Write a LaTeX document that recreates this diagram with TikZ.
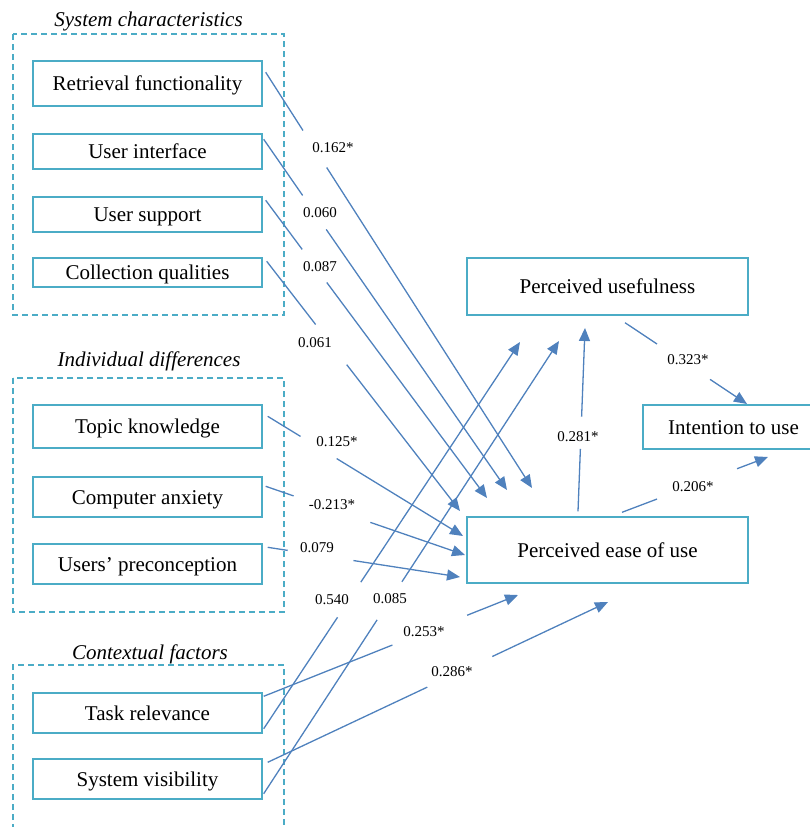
\documentclass[tikz,border=0pt]{standalone}
\usepackage{fontspec}
\setmainfont{Liberation Serif}
\usetikzlibrary{arrows.meta,calc}
\definecolor{boxteal}{HTML}{4BACC6}
\definecolor{arrblue}{HTML}{4F81BD}
\begin{document}
\begin{tikzpicture}[x=1pt,y=-1pt,
  box/.style={draw=boxteal, line width=1.4pt, fill=white, inner sep=0pt, minimum width=229pt,
    font=\fontsize{21}{24}\selectfont, text=black, text height=16pt, text depth=2pt},
  bigbox/.style={box, minimum width=281pt},
  grouptitle/.style={font=\fontsize{21}{24}\selectfont\itshape, inner sep=0pt, text height=16pt, text depth=2pt},
  frame/.style={draw=boxteal, line width=1.1pt, dash pattern=on 6pt off 4pt},
  conn/.style={draw=arrblue, line width=1.3pt},
  arr/.style={conn, -{Triangle[length=13pt,width=11pt]}},
  coef/.style={font=\fontsize{15}{17}\selectfont, inner sep=0pt, text=black}]
\useasboundingbox (0,0) rectangle (810,827);
\clip (0,0) rectangle (810,827);

% group frames
\draw[frame] (13,34) rectangle (284,315);
\draw[frame] (13,378) rectangle (284,612);
\draw[frame] (13,840) -- (13,665) -- (284,665) -- (284,840);

% group titles
\node[grouptitle] (g1) at (148.5,19) {System characteristics};
\node[grouptitle] (g2) at (149,359) {Individual differences};
\node[grouptitle] (g3) at (150,652) {Contextual factors};

% left boxes
\node[box, minimum height=45pt] (rf) at (147.5,83.5) {Retrieval functionality};
\node[box, minimum height=35pt] (ui) at (147.5,151.5) {User interface};
\node[box, minimum height=35pt] (us) at (147.5,214.5) {User support};
\node[box, minimum height=29pt] (cq) at (147.5,272.5) {Collection qualities};
\node[box, minimum height=43pt] (tk) at (147.5,426.5) {Topic knowledge};
\node[box, minimum height=40pt] (ca) at (147.5,497) {Computer anxiety};
\node[box, minimum height=40pt] (up) at (147.5,564) {Users’ preconception};
\node[box, minimum height=40pt] (tr) at (147.5,713) {Task relevance};
\node[box, minimum height=40pt] (sv) at (147.5,779) {System visibility};

% right boxes
\node[bigbox, minimum height=57pt] (pu) at (607.5,286.5) {Perceived usefulness};
\node[box, minimum width=181pt, minimum height=44pt] (iu) at (733.5,427) {Intention to use};
\node[bigbox, minimum height=66pt] (peou) at (607.5,550) {Perceived ease of use};

% connector start points (on the boxes) and arrow tips
\coordinate (rf-s) at ([shift={(3,12)}]rf.north east);
\coordinate (ui-s) at ([shift={(1,6)}]ui.north east);
\coordinate (us-s) at ([shift={(3,4)}]us.north east);
\coordinate (cq-s) at ([shift={(4,4)}]cq.north east);
\coordinate (tk-s) at ([shift={(5,12)}]tk.north east);
\coordinate (ca-s) at ([shift={(3,10)}]ca.north east);
\coordinate (up-s) at ([shift={(5,4)}]up.north east);
\coordinate (trpu-s) at ([shift={(1,-5)}]tr.south east);
\coordinate (trpe-s) at ([shift={(1,4)}]tr.north east);
\coordinate (svpu-s) at ([shift={(1,-6)}]sv.south east);
\coordinate (svpe-s) at ([shift={(5,4)}]sv.north east);
\coordinate (pepu-s) at ([shift={(-29.5,-5)}]peou.north);
\coordinate (puiu-s) at ([shift={(17.5,7)}]pu.south);
\coordinate (peiu-s) at ([shift={(14.5,-4)}]peou.north);

\coordinate (rf-t) at (532,488);
\coordinate (ui-t) at (507,490);
\coordinate (us-t) at (487,498);
\coordinate (cq-t) at (460,511);
\coordinate (tk-t) at (463,536);
\coordinate (ca-t) at (465,555);
\coordinate (up-t) at (460,577);
\coordinate (trpu-t) at (520,342);
\coordinate (svpu-t) at (559,341);
\coordinate (trpe-t) at (518,595);
\coordinate (svpe-t) at (608,602);
\coordinate (pepu-t) at (585,328);
\coordinate (puiu-t) at (747,404);
\coordinate (peiu-t) at (768,457);

% connectors, each broken where its coefficient stands
\draw[conn] (rf-s) -- ($(rf-s)!0.14!(rf-t)$);
\draw[arr] ($(rf-s)!0.229!(rf-t)$) -- (rf-t);
\draw[conn] (ui-s) -- ($(ui-s)!0.16!(ui-t)$);
\draw[arr] ($(ui-s)!0.257!(ui-t)$) -- (ui-t);
\draw[conn] (us-s) -- ($(us-s)!0.165!(us-t)$);
\draw[arr] ($(us-s)!0.276!(us-t)$) -- (us-t);
\draw[conn] (cq-s) -- ($(cq-s)!0.253!(cq-t)$);
\draw[arr] ($(cq-s)!0.414!(cq-t)$) -- (cq-t);
\draw[conn] (tk-s) -- ($(tk-s)!0.168!(tk-t)$);
\draw[arr] ($(tk-s)!0.353!(tk-t)$) -- (tk-t);
\draw[conn] (ca-s) -- ($(ca-s)!0.14!(ca-t)$);
\draw[arr] ($(ca-s)!0.525!(ca-t)$) -- (ca-t);
\draw[conn] (up-s) -- ($(up-s)!0.104!(up-t)$);
\draw[arr] ($(up-s)!0.446!(up-t)$) -- (up-t);
\draw[conn] (trpu-s) -- ($(trpu-s)!0.288!(trpu-t)$);
\draw[arr] ($(trpu-s)!0.379!(trpu-t)$) -- (trpu-t);
\draw[conn] (svpu-s) -- ($(svpu-s)!0.384!(svpu-t)$);
\draw[arr] ($(svpu-s)!0.468!(svpu-t)$) -- (svpu-t);
\draw[conn] (trpe-s) -- ($(trpe-s)!0.506!(trpe-t)$);
\draw[arr] ($(trpe-s)!0.8!(trpe-t)$) -- (trpe-t);
\draw[conn] (svpe-s) -- ($(svpe-s)!0.469!(svpe-t)$);
\draw[arr] ($(svpe-s)!0.66!(svpe-t)$) -- (svpe-t);
\draw[conn] (pepu-s) -- ($(pepu-s)!0.34!(pepu-t)$);
\draw[arr] ($(pepu-s)!0.516!(pepu-t)$) -- (pepu-t);
\draw[conn] (puiu-s) -- ($(puiu-s)!0.262!(puiu-t)$);
\draw[arr] ($(puiu-s)!0.697!(puiu-t)$) -- (puiu-t);
\draw[conn] (peiu-s) -- ($(peiu-s)!0.24!(peiu-t)$);
\draw[arr] ($(peiu-s)!0.788!(peiu-t)$) -- (peiu-t);

% coefficients
\node[coef] (c-rf) at (333,148) {0.162*};
\node[coef] (c-ui) at (320,213) {0.060};
\node[coef] (c-us) at (320,267) {0.087};
\node[coef] (c-cq) at (315,343) {0.061};
\node[coef] (c-tk) at (337,442) {0.125*};
\node[coef] (c-ca) at (332,505) {-0.213*};
\node[coef] (c-up) at (317,548) {0.079};
\node[coef] (c-trpu) at (332,600) {0.540};
\node[coef] (c-svpu) at (390,599) {0.085};
\node[coef] (c-trpe) at (424,632) {0.253*};
\node[coef] (c-svpe) at (452,672) {0.286*};
\node[coef] (c-pepu) at (578,437) {0.281*};
\node[coef] (c-puiu) at (688,360) {0.323*};
\node[coef] (c-peiu) at (693,487) {0.206*};
\end{tikzpicture}
\end{document}
